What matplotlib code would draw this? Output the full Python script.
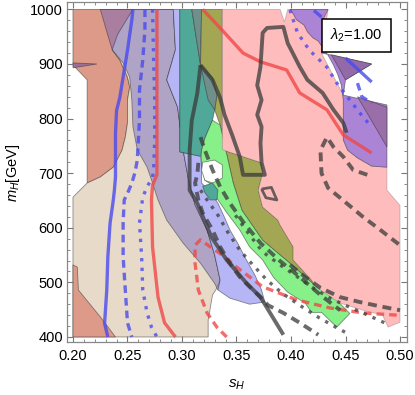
import matplotlib
matplotlib.use('Agg')
import matplotlib.pyplot as plt
from matplotlib.colors import to_rgba

plt.rcParams['font.family'] = ['Liberation Sans', 'DejaVu Sans']
plt.rcParams['mathtext.fontset'] = 'custom'
plt.rcParams['mathtext.rm'] = 'Liberation Sans'
plt.rcParams['mathtext.it'] = 'Liberation Sans:italic'
plt.rcParams['mathtext.bf'] = 'Liberation Sans:bold'

# ---------------- region boundaries (s_H, m_H) ----------------
salmon_s = [0.200, 0.255, 0.248, 0.241, 0.236, 0.243, 0.250, 0.252, 0.250, 0.250, 0.248, 0.245, 0.237, 0.225, 0.213, 0.213, 0.200]
salmon_m = [1000, 1000, 977, 954, 926, 907, 876, 858, 834, 792, 766, 742, 711, 693, 682, 871, 898]

tan_s = [0.255, 0.292, 0.294, 0.286, 0.296, 0.301, 0.306, 0.312, 0.323, 0.330, 0.335, 0.331, 0.328, 0.324, 0.324, 0.200, 0.200, 0.213,
         0.225, 0.237, 0.245, 0.248, 0.250, 0.250, 0.252, 0.250, 0.243, 0.236, 0.241, 0.248]
tan_m = [1000, 1000, 926, 871, 821, 743, 688, 642, 596, 550, 504, 486, 477, 431, 400, 400, 656, 682,
         693, 711, 742, 766, 792, 834, 858, 876, 907, 926, 954, 977]

salmon2_s = [0.200, 0.204, 0.205, 0.216, 0.225, 0.239, 0.200]
salmon2_m = [532, 528, 486, 459, 437, 400, 400]

ptri_s = [0.200, 0.222, 0.200]
ptri_m = [902, 900, 893]

purple_s = [0.225, 0.292, 0.294, 0.286, 0.296, 0.301, 0.306, 0.312, 0.323, 0.330, 0.335, 0.333,
            0.330, 0.317, 0.301, 0.286, 0.278, 0.273, 0.268, 0.259, 0.255, 0.254, 0.252, 0.246, 0.236, 0.231, 0.228]
purple_m = [1000, 1000, 926, 871, 821, 743, 688, 642, 596, 550, 504, 486,
            498, 535, 572, 614, 651, 682, 711, 743, 785, 834, 876, 902, 926, 959, 980]

lav_s = [0.292, 0.298, 0.298, 0.317, 0.318, 0.318, 0.326, 0.333, 0.339, 0.344, 0.351, 0.358, 0.367, 0.373, 0.376,
         0.362, 0.344, 0.333, 0.335, 0.330, 0.323, 0.312, 0.306, 0.301, 0.296, 0.286, 0.294]
lav_m = [1000, 1000, 739, 731, 715, 682, 665, 645, 619, 596, 572, 545, 513, 486, 464,
         460, 471, 486, 504, 550, 596, 642, 688, 743, 821, 871, 926]

teal_s = [0.298, 0.309, 0.317, 0.326, 0.330, 0.328, 0.321, 0.318, 0.317, 0.298]
teal_m = [1000, 1000, 898, 852, 816, 797, 764, 742, 731, 739]

wedge_s = [0.309, 0.318, 0.317]
wedge_m = [1000, 1000, 898]

wedge2_s = [0.317, 0.328, 0.332, 0.330, 0.324]
wedge2_m = [898, 874, 843, 816, 834]

olive_s = [0.318, 0.337, 0.337, 0.373, 0.374, 0.370, 0.374, 0.388, 0.390, 0.402, 0.402, 0.419, 0.424,
           0.399, 0.374, 0.355, 0.347, 0.335, 0.330, 0.332, 0.328, 0.317]
olive_m = [1000, 1000, 743, 719, 700, 669, 638, 614, 605, 565, 541, 504, 491,
           535, 577, 632, 682, 788, 816, 843, 874, 898]

green_s = [0.328, 0.335, 0.347, 0.355, 0.374, 0.399, 0.424, 0.439, 0.454, 0.442, 0.428, 0.419, 0.413,
           0.397, 0.384, 0.374, 0.362, 0.353, 0.341, 0.330, 0.328, 0.321, 0.318, 0.318, 0.321]
green_m = [797, 788, 682, 632, 577, 535, 491, 473, 443, 418, 445, 445, 462,
           482, 509, 541, 565, 596, 628, 660, 678, 687, 715, 742, 764]

hole_s = [0.319, 0.330, 0.337, 0.337, 0.328, 0.321, 0.318]
hole_m = [720, 724, 715, 691, 682, 687, 705]

teal2_s = [0.319, 0.328, 0.333, 0.332, 0.326, 0.321]
teal2_m = [676, 682, 669, 651, 651, 664]

pink_s = [0.337, 0.390, 0.394, 0.397, 0.434, 0.428, 0.448, 0.448, 0.452, 0.461, 0.474, 0.488, 0.488, 0.500, 0.500,
          0.489, 0.484, 0.466, 0.445, 0.427, 0.422, 0.419, 0.402, 0.402, 0.390, 0.388, 0.374, 0.370, 0.374, 0.373, 0.337]
pink_m = [1000, 1000, 977, 1000, 1000, 920, 843, 760, 742, 728, 713, 711, 669, 641, 427,
          418, 440, 449, 462, 486, 493, 504, 541, 565, 605, 614, 638, 669, 700, 719, 743]

violet_s = [0.399, 0.434, 0.430, 0.428, 0.438, 0.474, 0.450, 0.448, 0.488, 0.488, 0.474, 0.461, 0.452, 0.448,
            0.448, 0.446, 0.443, 0.439, 0.434, 0.428, 0.425, 0.420, 0.415, 0.412, 0.405, 0.402]
violet_m = [1000, 1000, 984, 920, 916, 900, 871, 843, 825, 711, 713, 728, 742, 761,
            834, 862, 880, 898, 916, 933, 942, 948, 959, 971, 981, 992]

dark1_s = [0.437, 0.474, 0.450]
dark1_m = [917, 900, 871]
dark2_s = [0.461, 0.488, 0.488]
dark2_m = [840, 821, 748]

# ---------------- contour lines (s_H, m_H) ----------------
blue_solid_s = [0.255, 0.254, 0.250, 0.246, 0.243, 0.240, 0.239, 0.239, 0.238, 0.237, 0.234, 0.232, 0.231, 0.229, 0.232]
blue_solid_m = [1000, 981, 925, 876, 839, 815, 773, 693, 669, 651, 608, 547, 486, 425, 400]

blue_dash_s = [0.266, 0.266, 0.264, 0.261, 0.261, 0.260, 0.259, 0.257, 0.254, 0.250, 0.247, 0.246, 0.246, 0.248, 0.250, 0.254]
blue_dash_m = [1000, 962, 907, 852, 797, 761, 724, 702, 682, 663, 651, 609, 547, 486, 426, 400]

blue_dot_s = [0.273, 0.274, 0.275, 0.275, 0.274, 0.273, 0.268, 0.264, 0.261, 0.263, 0.264, 0.268, 0.272, 0.277]
blue_dot_m = [1000, 907, 834, 761, 706, 693, 675, 656, 609, 547, 486, 444, 418, 400]

red_solid_s = [0.277, 0.277, 0.277, 0.273, 0.272, 0.273, 0.278, 0.284, 0.294]
red_solid_m = [1000, 907, 697, 678, 651, 565, 473, 426, 400]

red_solid2_s = [0.319, 0.335, 0.356, 0.372, 0.396, 0.408, 0.433, 0.448, 0.474]
red_solid2_m = [1000, 966, 920, 904, 889, 847, 816, 770, 737]

red_dash_s = [0.341, 0.332, 0.323, 0.315, 0.312, 0.312, 0.317, 0.326, 0.337, 0.350, 0.374, 0.405, 0.436, 0.466, 0.497]
red_dash_m = [400, 418, 444, 486, 535, 568, 578, 565, 550, 528, 492, 468, 453, 444, 440]

gray_solid_s = [0.317, 0.314, 0.309, 0.307, 0.307, 0.307, 0.314, 0.327, 0.341, 0.359, 0.372, 0.393]
gray_solid_m = [898, 846, 797, 742, 700, 669, 645, 583, 541, 499, 473, 404]

gray_solid2_s = [0.317, 0.328, 0.335, 0.339, 0.346, 0.353, 0.356, 0.376, 0.373, 0.372, 0.373, 0.369, 0.373, 0.369,
                 0.372, 0.374, 0.378, 0.393, 0.397, 0.408, 0.415, 0.429, 0.439, 0.448, 0.451]
gray_solid2_m = [898, 871, 838, 807, 770, 730, 697, 697, 719, 755, 785, 807, 834, 861,
                 895, 957, 966, 968, 938, 895, 871, 847, 816, 792, 774]

gray_tri_s = [0.373, 0.382, 0.387, 0.377, 0.373]
gray_tri_m = [671, 674, 651, 655, 671]

gray_dash1_s = [0.317, 0.321, 0.328, 0.335, 0.344, 0.356, 0.372, 0.390, 0.408, 0.427, 0.445]
gray_dash1_m = [766, 742, 706, 675, 645, 611, 572, 539, 510, 477, 449]

gray_dash2_s = [0.315, 0.314, 0.312, 0.315, 0.319, 0.328, 0.335, 0.344, 0.353, 0.362, 0.372, 0.379, 0.393, 0.408, 0.425]
gray_dash2_m = [719, 697, 682, 651, 627, 596, 565, 535, 510, 492, 473, 458, 444, 426, 404]

gray_dash3_s = [0.470, 0.457, 0.448, 0.439, 0.433, 0.427, 0.428, 0.434, 0.445, 0.451, 0.466, 0.482, 0.500]
gray_dash3_m = [697, 706, 730, 748, 766, 742, 700, 673, 655, 645, 620, 596, 568]

gray_dash4_s = [0.399, 0.413, 0.427, 0.445, 0.463, 0.482, 0.500]
gray_dash4_m = [532, 510, 490, 473, 464, 456, 449]

gray_dot1_s = [0.317, 0.323, 0.333, 0.342, 0.353, 0.365, 0.378, 0.392, 0.408, 0.426, 0.441, 0.454]
gray_dot1_m = [669, 651, 623, 592, 559, 532, 504, 480, 458, 435, 418, 404]

gray_dot2_s = [0.349, 0.362, 0.374, 0.390, 0.406, 0.420, 0.436, 0.451, 0.466, 0.488]
gray_dot2_m = [623, 587, 556, 532, 510, 490, 471, 457, 444, 424]

blue_dot2_s = [0.399, 0.406, 0.417, 0.433, 0.442, 0.454, 0.466, 0.474]
blue_dot2_m = [999, 957, 925, 894, 865, 834, 803, 785]

blue_solid2_s = [0.450, 0.474]
blue_solid2_m = [911, 867]

blue_dash2_s = [0.461, 0.465, 0.474]
blue_dash2_m = [865, 840, 829]

blue_seg_s = [0.421, 0.428]
blue_seg_m = [998, 986]

x_ticks = [0.20, 0.25, 0.30, 0.35, 0.40, 0.45, 0.50]
x_labels = ['0.20', '0.25', '0.30', '0.35', '0.40', '0.45', '0.50']
y_ticks = [400, 500, 600, 700, 800, 900, 1000]
y_labels = ['400', '500', '600', '700', '800', '900', '1000']
label_text = r'$\lambda_2$=1.00'

# ---------------- figure ----------------
fig = plt.figure(figsize=(4.15, 3.95), dpi=100)
ax = fig.add_axes([0.1614, 0.1342, 0.8193, 0.8608])

EDGE = (0.2, 0.2, 0.2, 0.55)


def region(s, m, color, alpha=1.0, z=1.0, lw=0.6, ec=EDGE):
    ax.fill(s, m, facecolor=to_rgba(color, alpha), edgecolor=ec, lw=lw, zorder=z)


region(salmon_s, salmon_m, '#de9a88', z=1)
region(tan_s, tan_m, '#e8dac9', z=1.1)
region(salmon2_s, salmon2_m, '#de9a88', z=1.2)
region(ptri_s, ptri_m, '#9a6f98', z=1.3)
region(purple_s, purple_m, '#5a55c0', alpha=0.4, z=1.4)
region(lav_s, lav_m, '#b6b6f6', z=1.5)
region(teal_s, teal_m, '#4fa898', z=1.6)
region(wedge_s, wedge_m, '#6f8f8a', z=1.7)
region(olive_s, olive_m, '#a3a653', z=1.8)
region(wedge2_s, wedge2_m, '#6f8f8a', z=1.85)
region(green_s, green_m, '#88f088', z=1.9)
region(hole_s, hole_m, '#ffffff', z=1.95)
region(teal2_s, teal2_m, '#4fa898', z=1.96)
region(pink_s, pink_m, '#ffbcbc', z=2.0, ec=(0.3, 0.3, 0.3, 0.3))
region(violet_s, violet_m, '#ac84d6', z=2.1)
region(dark1_s, dark1_m, '#936aa8', z=2.2)
region(dark2_s, dark2_m, '#9a6ea8', z=2.2)

BLUE = to_rgba('#4a4aee', 0.8)
RED = to_rgba('#f04848', 0.8)
GRAY = to_rgba('#3a3a3a', 0.75)
dash = (0, (2.3, 1.5))
dot = (0, (1.0, 1.9))


def line(s, m, color, ls='-', lw=2.4, z=3):
    ax.plot(s, m, color=color, ls=ls, lw=lw, zorder=z,
            solid_capstyle='butt', dash_capstyle='butt', solid_joinstyle='round')


line(blue_solid_s, blue_solid_m, BLUE)
line(blue_dash_s, blue_dash_m, BLUE, dash)
line(blue_dot_s, blue_dot_m, BLUE, dot)
line(red_solid_s, red_solid_m, RED)
line(red_solid2_s, red_solid2_m, RED)
line(red_dash_s, red_dash_m, RED, dash)
line(gray_solid_s, gray_solid_m, GRAY, lw=2.8)
line(gray_solid2_s, gray_solid2_m, GRAY, lw=2.8)
line(gray_tri_s, gray_tri_m, GRAY, lw=2.0)
line(gray_dash1_s, gray_dash1_m, GRAY, dash, lw=2.8)
line(gray_dash2_s, gray_dash2_m, GRAY, dash, lw=2.8)
line(gray_dash3_s, gray_dash3_m, GRAY, dash, lw=2.8)
line(gray_dash4_s, gray_dash4_m, GRAY, dash, lw=2.8)
line(gray_dot1_s, gray_dot1_m, GRAY, dot, lw=2.4)
line(gray_dot2_s, gray_dot2_m, GRAY, dot, lw=2.4)
line(blue_dot2_s, blue_dot2_m, BLUE, dot)
line(blue_solid2_s, blue_solid2_m, BLUE)
line(blue_dash2_s, blue_dash2_m, BLUE, dash)
line(blue_seg_s, blue_seg_m, BLUE)

ax.text(0.4601, 952, label_text, ha='center', va='center', fontsize=10.5, zorder=10,
        bbox=dict(boxstyle='square,pad=0.55', fc='white', ec='black', lw=1.1))

ax.set_xlim(0.1945, 0.5064)
ax.set_ylim(390.8, 1013.6)
ax.set_xticks(x_ticks)
ax.set_xticklabels(x_labels)
ax.set_yticks(y_ticks)
ax.set_yticklabels(y_labels)
ax.set_xticks([0.20 + 0.01 * i for i in range(31)], minor=True)
ax.set_yticks([400 + 20 * i for i in range(31)], minor=True)
ax.tick_params(which='both', direction='in', top=True, right=True, colors='#777777',
               labelcolor='black', labelsize=10.5)
ax.tick_params(which='major', length=4.5, width=0.8)
ax.tick_params(which='minor', length=2.3, width=0.6)
ax.tick_params(axis='x', pad=5)
ax.tick_params(axis='y', pad=3)
for sp in ax.spines.values():
    sp.set_color('#888888')
    sp.set_linewidth(0.9)

fig.text(237 / 415, 1 - 385 / 395, r'$s_H$', ha='center', va='center', fontsize=11)
fig.text(13 / 415, 1 - 173 / 395, r'$m_H$[GeV]', ha='center', va='center', fontsize=10.5, rotation=90)

fig.savefig('out.png', dpi=100)
